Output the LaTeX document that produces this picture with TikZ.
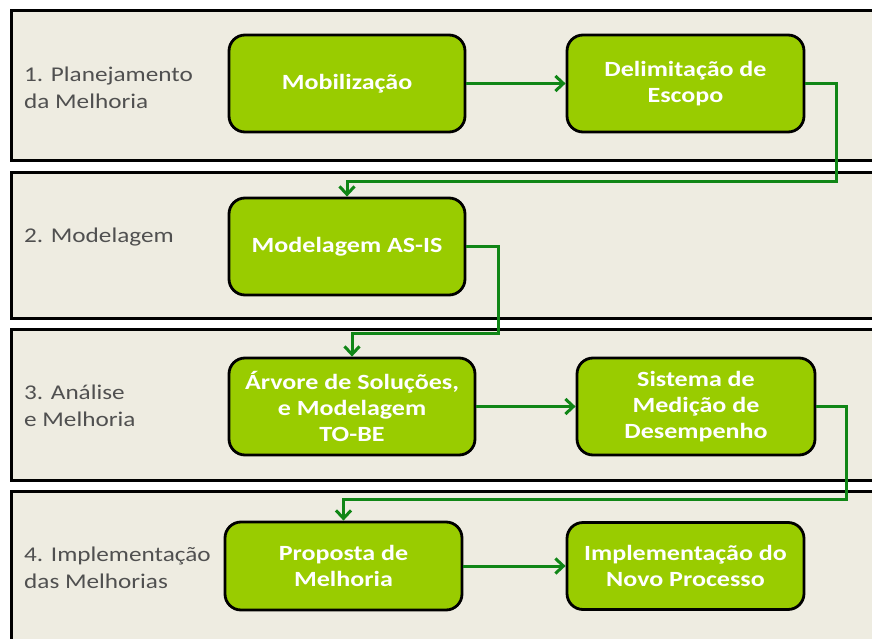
\documentclass[tikz,border=0pt]{standalone}
\usepackage{fontspec}
\setmainfont{Carlito}[FakeStretch=1.2]
\usetikzlibrary{arrows.meta}
\definecolor{lanebg}{HTML}{EEECE1}
\definecolor{boxgreen}{HTML}{99CC00}
\definecolor{arrgreen}{RGB}{16,134,22}
\definecolor{labelgray}{HTML}{505050}
\tikzset{
  lane/.style={draw=black, line width=3pt, fill=lanebg},
  stepbox/.style={draw=black, line width=2.8pt, fill=boxgreen, rounded corners=16pt,
    text=white, align=center, inner sep=2pt,
    font=\fontsize{21.7}{26}\selectfont\bfseries},
  lanelabel/.style={text=labelgray, align=left, inner sep=0pt, anchor=west,
    font=\fontsize{21}{27}\selectfont},
  flow/.style={draw=arrgreen, line width=3pt,
    -{Straight Barb[length=8pt, width=15pt, line width=3pt]}},
}
\begin{document}
\begin{tikzpicture}[x=1pt, y=-1pt]
\useasboundingbox (0,0) rectangle (872,639);
\clip (0,0) rectangle (872,639);
% lanes
\path[lane] (11,11) rectangle (900,161);
\path[lane] (11,173) rectangle (900,318);
\path[lane] (11,329) rectangle (900,480);
\path[lane] (11,491) rectangle (900,680);
% lane labels
\node[lanelabel] (l1) at (24,88) {1. Planejamento\\da Melhoria};
\node[lanelabel] (l2) at (24,237) {2. Modelagem};
\node[lanelabel] (l3) at (24,406) {3. Análise\\e Melhoria};
\node[lanelabel] (l4) at (24,568) {4. Implementação\\das Melhorias};
% boxes
\node[stepbox, minimum width=236pt, minimum height=97pt] (mob) at (347,83.5) {Mobilização};
\node[stepbox, minimum width=237pt, minimum height=97pt] (delim) at (685.5,83.5) {Delimitação de\\Escopo};
\node[stepbox, minimum width=236pt, minimum height=97pt] (asis) at (347,246.5) {Modelagem AS-IS};
\node[stepbox, minimum width=246pt, minimum height=97pt] (arv) at (352,406.5) {Árvore de Soluções,\\e Modelagem\\TO-BE};
\node[stepbox, minimum width=238pt, minimum height=97pt] (sis) at (696,406.5) {Sistema de\\Medição de\\Desempenho};
\node[stepbox, minimum width=237pt, minimum height=88pt] (prop) at (343.5,566) {Proposta de\\Melhoria};
\node[stepbox, minimum width=237pt, minimum height=87pt] (impl) at (685.5,566) {Implementação do\\Novo Processo};
% corner coordinates
\coordinate (c1) at (836,182);
\coordinate (c2) at (498,333);
\coordinate (c3) at (846,499);
% connectors
\draw[flow] (mob.east) -- (delim.west);
\draw[flow] (delim.east) -| (c1) -| (asis.north);
\draw[flow] (asis.east) -| (c2) -| (arv.north);
\draw[flow] (arv.east) -- (sis.west);
\draw[flow] (sis.east) -| (c3) -| (prop.north);
\draw[flow] (prop.east) -- (impl.west);
\end{tikzpicture}
\end{document}
